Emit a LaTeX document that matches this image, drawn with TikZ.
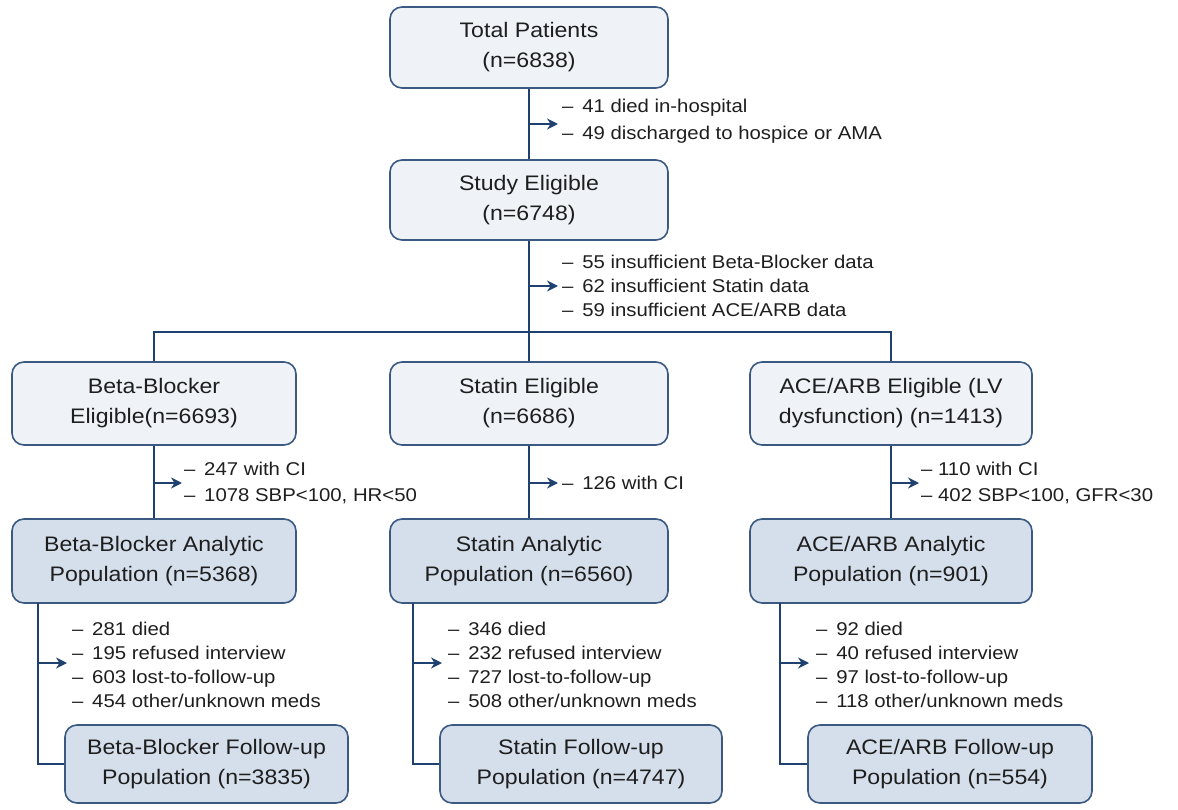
\documentclass[tikz,border=0pt]{standalone}
\usepackage{fontspec}
\setmainfont[FakeStretch=1.1]{Liberation Sans}
\usetikzlibrary{arrows.meta}
\definecolor{linec}{HTML}{1F416F}
\definecolor{borderc}{HTML}{3A5A82}
\definecolor{lightf}{HTML}{EFF3F8}
\definecolor{darkf}{HTML}{D5DFEB}
\definecolor{txt}{HTML}{1E1E1E}
\tikzset{
  box/.style={draw=borderc, line width=1.6pt, rounded corners=12pt, align=center,
    text=txt, font=\fontsize{21}{30}\selectfont, inner sep=0pt},
  lbox/.style={box, fill=lightf},
  dbox/.style={box, fill=darkf},
  conn/.style={draw=linec, line width=2.9pt},
  arr/.style={conn, -{Stealth[length=11pt,width=11pt]}},
  items/.style={anchor=west, align=left, inner sep=0pt, text=txt,
    font=\fontsize{18.5}{24}\selectfont}
}
\begin{document}
\begin{tikzpicture}[x=1pt,y=-1pt]
\useasboundingbox (0,0) rectangle (1178,810);
% boxes
\node[lbox, minimum width=278pt, minimum height=81pt] (tot) at (529,47.5) {Total Patients\\(n=6838)};
\node[lbox, minimum width=278pt, minimum height=80pt] (se) at (529,200) {Study Eligible\\(n=6748)};
\node[lbox, minimum width=284pt, minimum height=83pt] (bbe) at (154,403.5) {Beta-Blocker\\Eligible(n=6693)};
\node[lbox, minimum width=278pt, minimum height=83pt] (ste) at (529,403.5) {Statin Eligible\\(n=6686)};
\node[lbox, minimum width=282pt, minimum height=83pt] (ace) at (891,403.5) {ACE/ARB Eligible (LV\\dysfunction) (n=1413)};
\node[dbox, minimum width=284pt, minimum height=84pt] (bba) at (154,561) {Beta-Blocker Analytic\\Population (n=5368)};
\node[dbox, minimum width=278pt, minimum height=84pt] (sta) at (529,561) {Statin Analytic\\Population (n=6560)};
\node[dbox, minimum width=282pt, minimum height=84pt] (aca) at (891,561) {ACE/ARB Analytic\\Population (n=901)};
\node[dbox, minimum width=283pt, minimum height=78pt] (bbf) at (206.5,764) {Beta-Blocker Follow-up\\Population (n=3835)};
\node[dbox, minimum width=282pt, minimum height=78pt] (stf) at (581,764) {Statin Follow-up\\Population (n=4747)};
\node[dbox, minimum width=284pt, minimum height=78pt] (acf) at (950,764) {ACE/ARB Follow-up\\Population (n=554)};
% exclusion texts
\node[items] (t1) at (562,121.5) {– \,41 died in-hospital\\[3pt]– \,49 discharged to hospice or AMA};
\node[items] (t2) at (562,286) {– \,55 insufficient Beta-Blocker data\\– \,62 insufficient Statin data\\– \,59 insufficient ACE/ARB data};
\node[items] (t3) at (184,483) {– \,247 with CI\\[2pt]– \,1078 SBP<100, HR<50};
\node[items] (t4) at (562,483) {– \,126 with CI};
\node[items] (t5) at (921,483) {– 110 with CI\\[2pt]– 402 SBP<100, GFR<30};
\node[items] (t6) at (72,664.5) {– \,281 died\\– \,195 refused interview\\– \,603 lost-to-follow-up\\– \,454 other/unknown meds};
\node[items] (t7) at (448,664.5) {– \,346 died\\– \,232 refused interview\\– \,727 lost-to-follow-up\\– \,508 other/unknown meds};
\node[items] (t8) at (816,664.5) {– \,92 died\\– \,40 refused interview\\– \,97 lost-to-follow-up\\– \,118 other/unknown meds};
% coordinates
\coordinate (b1) at (529,124);
\coordinate (e1) at (558,124);
\coordinate (b2) at (529,286);
\coordinate (e2) at (558,286);
\coordinate (split) at (529,332);
\coordinate (sl) at (154,332);
\coordinate (sr) at (891,332);
\coordinate (b3) at (154,483);
\coordinate (e3) at (182,483);
\coordinate (b4) at (529,483);
\coordinate (e4) at (558,483);
\coordinate (b5) at (891,483);
\coordinate (e5) at (919,483);
\coordinate (l6) at (38,603);
\coordinate (b6) at (38,663);
\coordinate (e6) at (67,663);
\coordinate (l7) at (413,603);
\coordinate (b7) at (413,663);
\coordinate (e7) at (442,663);
\coordinate (l8) at (780,603);
\coordinate (b8) at (780,663);
\coordinate (e8) at (809,663);
% connectors
\draw[conn] (tot) -- (se);
\draw[arr] (b1) -- (e1);
\draw[conn] (se) -- (split);
\draw[arr] (b2) -- (e2);
\draw[conn] (bbe.north) -- (sl) -- (sr) -- (ace.north);
\draw[conn] (split) -- (ste.north);
\draw[conn] (bbe) -- (bba);
\draw[arr] (b3) -- (e3);
\draw[conn] (ste) -- (sta);
\draw[arr] (b4) -- (e4);
\draw[conn] (ace) -- (aca);
\draw[arr] (b5) -- (e5);
\draw[conn] (l6) |- (bbf.west);
\draw[arr] (b6) -- (e6);
\draw[conn] (l7) |- (stf.west);
\draw[arr] (b7) -- (e7);
\draw[conn] (l8) |- (acf.west);
\draw[arr] (b8) -- (e8);
\end{tikzpicture}
\end{document}
